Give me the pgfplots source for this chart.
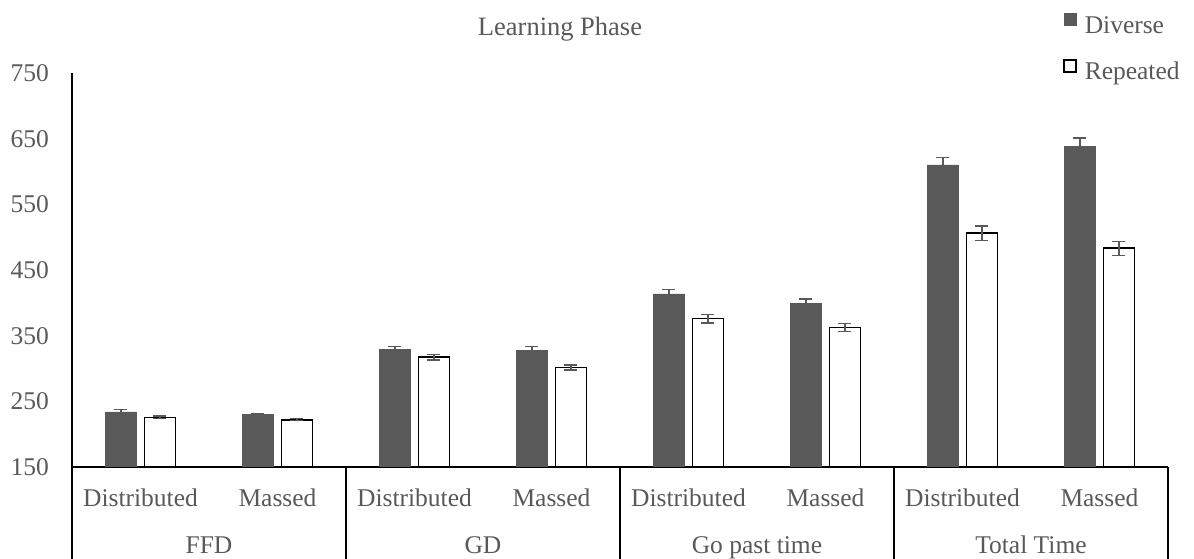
\documentclass[border=0pt]{standalone}
\usepackage{pgfplots}
\pgfplotsset{compat=1.18}
\usepackage{fontspec}
\setmainfont{Liberation Serif}
\definecolor{txt}{HTML}{595959}
\definecolor{barc}{HTML}{595959}
\begin{document}
\begin{tikzpicture}
\useasboundingbox (-72pt,-92pt) rectangle (1122pt,467pt);
\begin{axis}[
  at={(0pt,0pt)}, anchor=south west,
  scale only axis, width=1096pt, height=394pt,
  xmin=-0.5, xmax=7.5, ymin=150, ymax=750,
  ytick={150,250,...,750},
  xtick={0,...,7},
  xticklabels={Distributed,Massed,Distributed,Massed,Distributed,Massed,Distributed,Massed},
  axis x line*=bottom, axis y line*=left,
  x axis line style={-, line width=1.6pt, black},
  y axis line style={-, line width=1.2pt, black},
  major tick length=0pt,
  tick label style={font=\fontsize{25.5}{29}\selectfont, text=txt},
  /pgf/number format/assume math mode=true,
  yticklabel style={anchor=east, inner sep=0pt, xshift=-23pt},
  xticklabel style={anchor=base, inner sep=0pt, yshift=-40pt},
  ybar, bar width=31pt,
  legend image code/.code={\draw[#1] (0pt,1.5pt) rectangle (12pt,13.5pt);},
  legend cell align=left,
  legend style={at={(axis description cs:0.904,1.152)}, anchor=north west, draw=none, fill=none,
    inner sep=0pt, row sep=21pt, column sep=8pt,
    font=\fontsize{25.5}{29}\selectfont, text=txt,
    nodes={inner sep=0pt, text height=17pt, text depth=5pt}},
]
\addplot[fill=barc, draw=barc, line width=0.4pt, bar shift=-19.5pt,
  error bars/.cd, y dir=both, y explicit,
  error bar style={color=txt, line width=1.3pt},
  error mark options={rotate=90, mark size=6.5pt, color=txt, line width=1.3pt}]
  coordinates {(0,234) +- (0,3.5) (1,230) +- (0,2) (2,329) +- (0,5) (3,328) +- (0,5)
               (4,413.5) +- (0,7) (5,399) +- (0,7) (6,610) +- (0,11) (7,638) +- (0,13)};
\addlegendentry{Diverse}
\addplot[fill=white, draw=black, line width=1.8pt, bar shift=19.5pt,
  error bars/.cd, y dir=both, y explicit,
  error bar style={color=txt, line width=1.3pt},
  error mark options={rotate=90, mark size=6.5pt, color=txt, line width=1.3pt}]
  coordinates {(0,225.5) +- (0,2) (1,222) +- (0,1.5) (2,317) +- (0,4) (3,301.5) +- (0,4)
               (4,376) +- (0,6.5) (5,362.5) +- (0,6.5) (6,506) +- (0,11) (7,483) +- (0,10.5)};
\addlegendentry{Repeated}
\coordinate (s0) at (axis cs:-0.5,150);
\coordinate (s1) at (axis cs:1.5,150);
\coordinate (s2) at (axis cs:3.5,150);
\coordinate (s3) at (axis cs:5.5,150);
\coordinate (s4) at (axis cs:7.5,150);
\coordinate (g0) at (axis cs:0.5,150);
\coordinate (g1) at (axis cs:2.5,150);
\coordinate (g2) at (axis cs:4.5,150);
\coordinate (g3) at (axis cs:6.5,150);
\end{axis}
\foreach \s in {s0,s1,s2,s3,s4}{\draw[line width=1.2pt, black] (\s) -- ++(0,-92pt);}
\foreach \g/\t in {g0/FFD,g1/GD,g2/Go past time,g3/Total Time}{
  \node[anchor=base, inner sep=0pt, text=txt, font=\fontsize{25.5}{29}\selectfont] at ([yshift=-87pt]\g) {\t};}
\node[anchor=base, inner sep=0pt, text=txt, font=\fontsize{26.5}{30}\selectfont] at (488pt,431pt) {Learning Phase};
\end{tikzpicture}
\end{document}
